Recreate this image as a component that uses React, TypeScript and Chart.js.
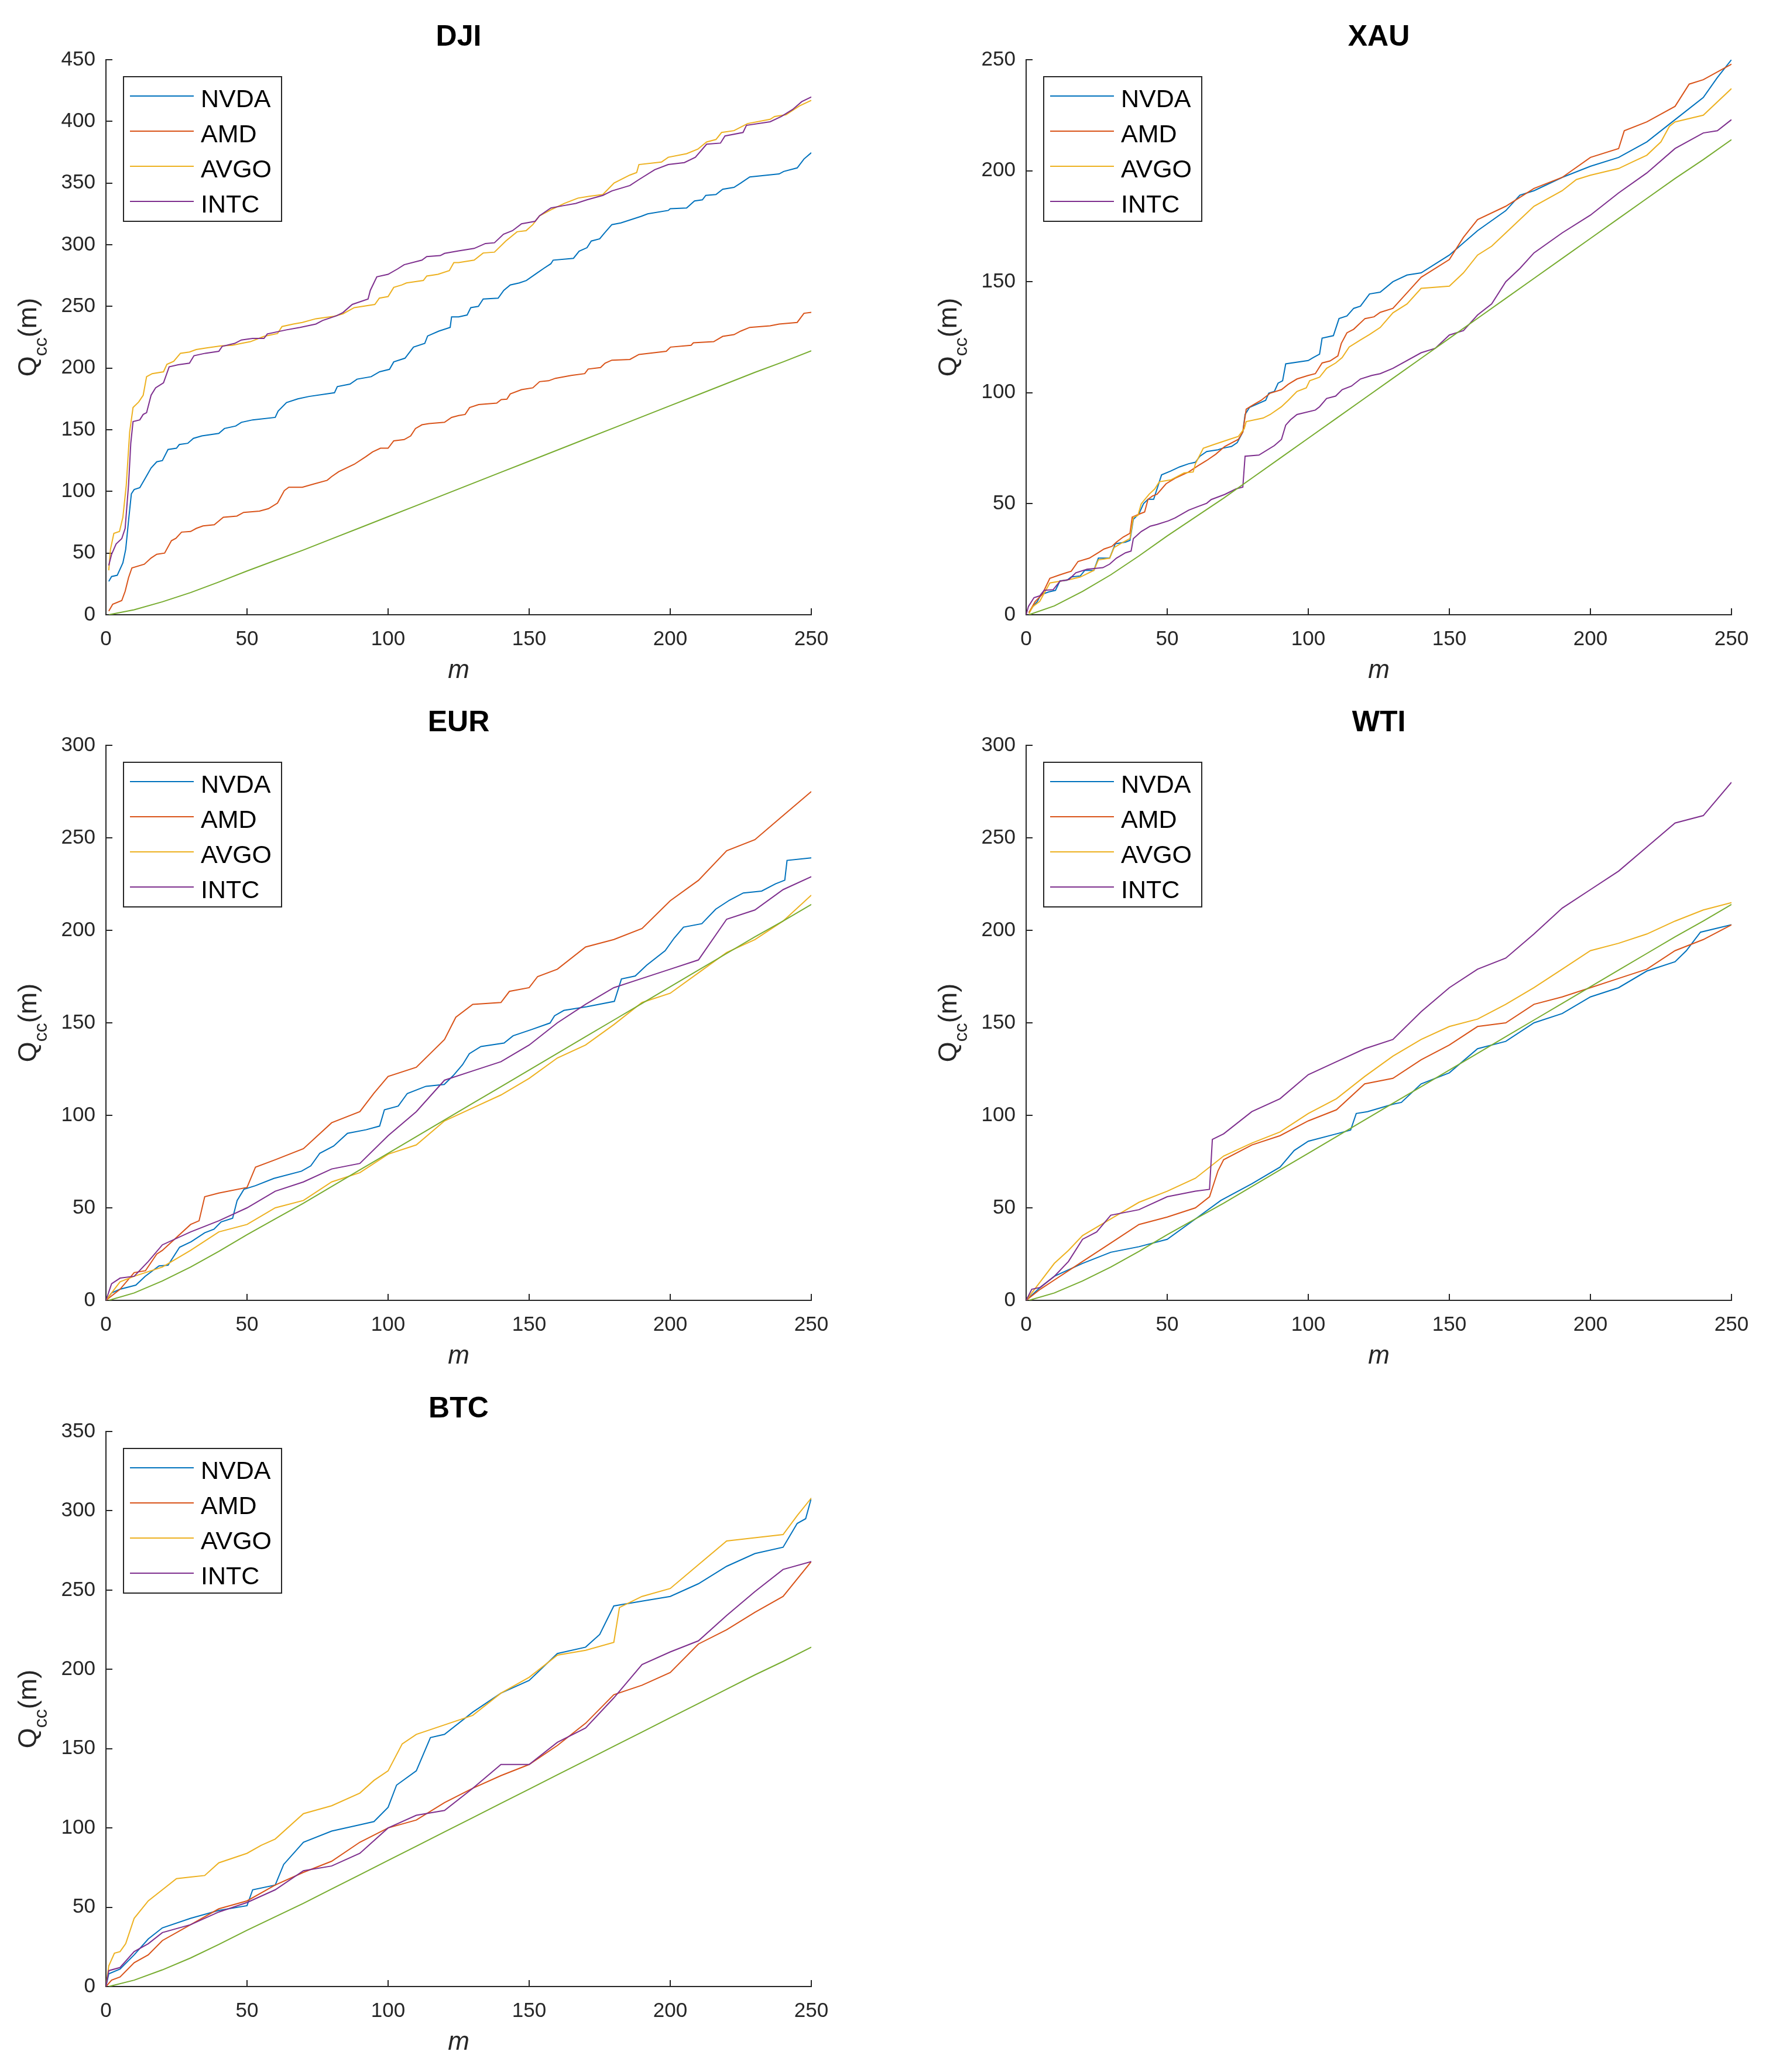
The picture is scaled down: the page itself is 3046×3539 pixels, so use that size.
import React, { useEffect, useRef } from 'react';
import { Chart, registerables } from 'chart.js';

Chart.register(...registerables);

const FONT = '"Liberation Sans", Arial, Helvetica, sans-serif';
Chart.defaults.font.family = FONT;

const SERIES_NAMES = ['NVDA', 'AMD', 'AVGO', 'INTC'];
const SERIES_COLORS = ['#0072BD', '#D95319', '#EDB120', '#7E2F8E'];
const THRESHOLD_COLOR = '#77AC30';
const AXIS_COLOR = '#262626';
const X_MAX = 250;
const X_STEP = 50;
const Y_STEP = 50;

// threshold curve shared by all panels: [m, value]
const THRESHOLD = [[1,0],[10,4],[20,10.5],[30,18],[40,26.5],[50,35.5],[60,44],[70,52.5],[80,61.5],[90,70.5],[100,79.5],[110,88.5],[120,97.5],[130,106.5],[140,115.5],[150,124.5],[160,133.5],[170,142.5],[180,151.5],[190,160.5],[200,169.5],[210,178.5],[220,187.5],[230,196.5],[240,205],[250,214]];

// DJI
const DJI_NVDA = [[1,27],[2,31],[4,32],[6,42],[7,53],[8,76],[9,98],[10,101.5],[12,103],[14,111],[16,119],[18,124],[20,125],[22,134],[25,135],[26,138],[29,139],[31,143],[34,145],[40,147],[42,151],[46,153],[48,156],[52,158],[60,160],[61,165],[64,172],[68,175],[72,177],[81,180],[82,185],[86.5,187],[89,191],[94,193],[97,197],[100.5,199],[102,205],[106,208],[109,217],[113,220],[114,226],[118,230],[122,233],[122.5,241.5],[125,241.5],[128,243],[129.3,249],[132,250],[133.7,256],[139,256.7],[141,263],[143.3,267.4],[146.5,269],[149,271],[153,277.4],[155.3,281],[157.7,284.6],[158.5,287.5],[165.7,289],[167.7,294.7],[170.5,297.6],[172,303],[175,304.8],[176.5,309],[179.3,316.3],[182.5,317.7],[189.7,323],[192,325],[199.3,327.8],[200,329.2],[205.8,329.8],[208.6,335.5],[211.4,336.4],[212.6,340],[216.2,340.7],[218.6,345],[222.6,346.5],[225,350],[228.2,355],[238.6,357.4],[240.2,359.4],[245,362.3],[247.4,369.5],[250,374.6]];
const DJI_AMD = [[1,3],[2.4,8.5],[5.6,11.5],[6.8,19],[8,30],[9.2,38],[13.6,41],[16,46],[18,49],[20.8,50],[23.2,60],[24.8,62],[26.8,67],[30,67.5],[32,70],[34.4,72],[38.4,73],[41.6,79],[46.4,80],[48.8,83],[54.4,84],[57.6,86],[60.8,90.5],[63.2,100.6],[64.8,103.4],[69.6,103.4],[73.6,106],[78.4,109],[80,112],[82.5,116],[88,122],[92,128],[94.5,132],[97.3,135],[100,135],[102,141],[105.7,142],[108,145],[109.7,151],[112,154],[114.5,155],[120,156],[122.5,160],[125,161.5],[127.3,162.4],[128.9,168],[132.1,170.4],[138.5,171.6],[140.1,174.5],[142.1,174.8],[143.3,179],[147.3,182.5],[151.3,184],[153.7,189],[156.9,189.7],[159.3,191.7],[164.9,194],[169.7,195.5],[170.9,199.2],[175.3,200.4],[176.9,204],[179.3,206.4],[185.7,207],[188.9,211],[198.6,213.6],[200.1,217],[207.4,218.5],[208.2,220.5],[215.4,221.4],[218.6,225.7],[222.6,227.1],[225,230],[228.2,233],[235.4,234.3],[238.6,235.7],[245,237],[247.4,244.4],[250,245.2]];
const DJI_AVGO = [[1,36],[1.6,53],[2.8,66],[4.8,67.5],[6,79],[7.2,105],[8.4,148],[9.6,168],[11.6,172.5],[13.2,178],[14.4,193],[16.4,195.5],[20.4,197],[21.6,203],[24,205.5],[26.4,212],[29.6,213],[32,215],[36,216.5],[40.8,218],[44.8,218.5],[48,220],[51.2,221.4],[56,225.7],[60.8,228],[62.4,233.7],[66.4,235.7],[69.6,237],[74.4,240],[80.8,242],[84,244],[88,249],[95.3,251.6],[96.9,256.7],[100,258],[102,265.4],[104.9,267.4],[106.5,269],[112.5,271],[113.7,274.6],[117.7,276],[121.7,279],[123.3,285.5],[125,285.5],[130.5,287.5],[133.7,293.3],[137.7,294],[141.7,303],[145.7,310.5],[148.9,311.4],[151.3,316.3],[153.7,323.5],[158.5,329.2],[162.5,333.5],[167.3,337.8],[171.3,339.3],[176.1,340.7],[180.1,350],[185.7,356.5],[188.1,358.5],[188.9,365],[196.9,367],[199.3,370.9],[205.8,373.8],[209.8,377.5],[212.9,383.3],[216.2,385.3],[218.2,391],[222.6,392.5],[227.4,398.2],[235.4,401.7],[237,404],[241,405.4],[245.8,412.6],[250,417]];
const DJI_INTC = [[1,40],[2,49],[3.6,57.4],[5.6,61.7],[6.8,70],[8,105],[8.8,139],[9.6,156.6],[12,158],[13.2,162.4],[14.4,163.8],[16,178],[17.6,184],[20.4,188],[22.4,201],[25.6,202.7],[29.6,204],[31.2,210],[35.2,212],[40,213.6],[41.2,217.6],[45.6,220],[48,222.8],[52,224],[56,224],[57.2,227.7],[64,231],[68.8,233],[74.4,235.7],[76.8,238.6],[81.7,242.4],[84,245],[87.3,251.6],[92.9,256],[93.7,263],[96,274],[100,276],[103.3,280.3],[105.7,283.8],[112,287.5],[113.7,290.4],[118.5,291.2],[120,293],[125,295],[130.5,297],[134.5,301],[137.7,301.6],[140.9,308.5],[144.1,311.4],[147.3,317],[152.1,319],[153.7,323.5],[157.7,329.8],[161.7,331.5],[166.5,333.5],[170.5,336.4],[176.1,340],[179.3,343.6],[185.7,348],[188.9,352.8],[194.5,360.8],[199.3,365],[205,366.6],[208.9,370.9],[212.9,381.5],[217.8,382.4],[219.4,388.2],[225.8,391],[227,396.8],[235.4,399.7],[239.4,404],[243.4,409.7],[246.6,416],[250,419.8]];

// XAU
const XAU_NVDA = [[1,1],[2.4,3.7],[4,6],[5.2,9],[8,10.3],[10.4,11],[12,15.3],[14.4,15.5],[16,17],[19.2,17.5],[20.8,20],[24,20],[25.6,25.5],[29.6,25.5],[31.6,32],[35.2,32.7],[36.8,33.5],[38,43],[40,45.5],[41.6,50],[43.2,52],[45.2,52],[48,63],[51.2,64.7],[54.4,66.6],[57.6,68],[60,68.7],[61.6,71.4],[64,73.5],[68,74.3],[69.6,75],[72.8,75.8],[74.8,77.5],[76.8,82.3],[77.6,90.2],[79.2,93.4],[84.9,96.6],[86,99.8],[88,100.6],[89.3,104.3],[90.9,105.4],[92,113],[100,114.5],[101.7,115.8],[104,117.4],[104.9,124.6],[108.9,125.7],[110.9,133.4],[113.7,134.6],[116.1,138],[118.5,139],[121.7,144.5],[125.5,145.3],[130,150],[135,153],[140,154],[150,162],[160,173],[170,182],[175,189],[180,191],[190,197],[200,202],[210,206],[220,213],[230,223],[240,233],[245,242],[250,250]];
const XAU_AMD = [[1,1],[3.2,6],[5.6,9],[8.4,16.4],[12,18],[14.4,19],[16,19.6],[18.4,24],[22.4,25.5],[25.6,28],[27.6,29.6],[30.4,30.8],[32,32.7],[34.4,35],[36.8,36.7],[37.6,44],[40.4,45.5],[42,46.3],[43.2,52],[44.8,53.5],[46.4,54.3],[49.6,59],[52.8,61.5],[57.6,64.3],[60.8,67],[64,69.5],[67.2,72.3],[70.4,75.8],[75.2,79],[76.8,82.3],[78,92.6],[80,94.2],[83.3,96.6],[86.5,99.8],[90.5,101.4],[92.9,103.8],[96,106.2],[100,107.8],[102.5,108.6],[103.7,111],[104.9,113.4],[107.7,114.3],[110.5,116.6],[111.7,122.2],[113.7,127],[116.1,128.6],[120.1,133.4],[123.3,134.2],[125.5,136.2],[130,138],[135,145],[140,152],[150,160],[155,170],[160,178],[170,184],[180,192],[190,197],[200,206],[210,210],[212,218],[220,222],[230,229],[235,239],[240,241],[250,248]];
const XAU_AVGO = [[1,0.5],[2.4,3.7],[4.8,6],[8.4,14.3],[12,15.1],[16,16],[19.2,17],[24,20],[25.6,24.7],[29.6,25.5],[31.2,30.3],[34.4,32.7],[36.8,34.3],[38,44],[39.6,44.7],[40.8,50],[43.6,54.3],[45.6,56.7],[47.2,59.9],[51.2,60.7],[56,63.9],[59.2,64.3],[60,68],[62.8,75],[66.4,76.6],[72,79],[75.2,80.3],[77.3,83.8],[78,87],[84,88.6],[86.5,90.2],[90.5,93.7],[92.9,96.6],[96,100.6],[99.3,102.2],[100.5,105.4],[104,107],[106.5,111],[109.7,113.4],[112,115.8],[114.5,120.6],[118.5,123.8],[121.7,126.2],[125.5,129.4],[130,136],[135,140],[140,147],[150,148],[155,154],[160,162],[165,166],[170,172],[175,178],[180,184],[190,191],[195,196],[200,198],[210,201],[215,204],[220,207],[225,213],[228,220],[230,222],[240,225],[250,237]];
const XAU_INTC = [[0,0],[0.8,3.7],[2.8,7.7],[4.8,8.5],[6.4,11],[9.6,11.3],[12,15.1],[15.2,15.9],[17.6,18.9],[21.6,20.5],[27.2,21.2],[29.6,22.8],[32,25.5],[35.2,27.9],[37.2,28.7],[38,34.3],[40.8,37.5],[44,39.9],[46.4,40.7],[50.4,42.3],[52.8,43.6],[57.6,47.1],[60.8,48.7],[64,50.2],[65.6,51.9],[70.4,54.2],[74.4,56.7],[76.8,57.5],[77.6,71.4],[82.5,71.9],[88,76.2],[90.5,79],[92,85.4],[93.7,87.8],[96,90.2],[102.5,92.2],[104,93.7],[106.5,97.4],[109.7,98.5],[112,101.4],[115.3,103],[118.5,106.2],[122.5,107.8],[125.5,108.6],[130,111],[140,118],[145,120],[150,126],[155,128],[160,135],[165,140],[170,150],[175,156],[180,163],[190,172],[200,180],[205,185],[210,190],[220,199],[230,210],[240,217],[245,218],[250,223]];

// EUR
const EUR_NVDA = [[0,0],[2,4],[5,6],[10.6,8.2],[13.9,13],[18.8,18.6],[22,19],[26.1,28.7],[30.2,31.7],[35,36.5],[38.3,38.5],[40.8,42.4],[44.9,44.4],[46.5,54],[48.9,60],[53,62],[59.5,65.9],[69.3,69.8],[72.6,72.7],[75.8,79.5],[80.7,83.4],[85.6,90.3],[92.2,92.2],[97,94.2],[98.7,103],[103.6,105],[106.8,111.8],[113.4,115.7],[119.9,116.7],[123.1,121.5],[126.4,127.4],[128.8,133.3],[132.9,137.2],[141.1,139.1],[144.3,143],[150.9,146.4],[157.4,149.9],[159,153.8],[162.3,156.7],[170.4,158.7],[180.2,161.6],[182.7,173.7],[187.6,175.3],[191.6,181.1],[198.2,189],[201.4,195.8],[204.7,201.7],[211.2,203.6],[216.1,211.4],[221,216.3],[225.9,220.2],[232.4,221.2],[237.3,225.1],[240.6,227.1],[241.4,237.8],[250,239.2]];
const EUR_AMD = [[0,0],[5,6],[10,15],[14,16],[18,25],[20,27],[30,41],[33,43],[35,56],[40,58],[50,61],[53,72],[60,76],[70,82],[80,96],[90,102],[95,112],[100,121],[110,126],[120,141],[124,153],[130,160],[140,161],[143,167],[150,169],[153,175],[160,179],[170,191],[180,195],[190,201],[200,216],[210,227],[220,243],[230,249],[240,262],[250,275]];
const EUR_AVGO = [[0,0],[5,10],[10,13],[20,18],[30,27],[40,37],[50,41],[60,50],[70,54],[80,64],[90,69],[100,79],[110,84],[120,97],[130,104],[140,111],[150,120],[160,131],[170,138],[180,149],[190,161],[200,166],[210,177],[220,188],[230,195],[240,205],[250,219]];
const EUR_INTC = [[0,0],[2,9],[5,12],[10,13],[15,21],[20,30],[30,37],[40,43],[50,50],[60,59],[70,64],[80,71],[90,74],[100,89],[110,102],[120,119],[130,124],[140,129],[150,138],[160,150],[170,160],[180,169],[190,174],[200,179],[210,184],[220,206],[230,211],[240,222],[250,229]];

// WTI
const WTI_NVDA = [[0,0],[5,7],[10,13],[20,20],[30,26],[40,29],[50,33],[60,44],[69,54],[80,63],[90,72],[95,81],[100,86],[110,90],[115,92],[117,101],[121,102],[130,106],[133,107],[140,117],[150,123],[160,136],[170,140],[180,150],[190,155],[200,164],[210,169],[220,178],[230,183],[234,189],[239,199],[250,203]];
const WTI_AMD = [[0,0],[5,6],[10,11],[20,21],[30,31],[40,41],[50,45],[60,50],[65,56],[68,70],[70,76],[80,84],[90,89],[100,97],[110,103],[120,117],[130,120],[140,130],[150,138],[160,148],[170,150],[180,160],[190,164],[200,169],[210,174],[220,179],[230,189],[240,195],[250,203]];
const WTI_AVGO = [[0,0],[5,10],[10,20],[15,27],[20,35],[30,44],[40,53],[50,59],[60,66],[70,78],[80,85],[90,91],[100,101],[110,109],[120,121],[130,132],[140,141],[150,148],[160,152],[170,160],[180,169],[190,179],[200,189],[210,193],[220,198],[230,205],[240,211],[250,215]];
const WTI_INTC = [[0,0],[2,6],[5,7],[10,13],[15,21],[20,33],[25,37],[30,46],[40,49],[50,56],[60,59],[65,60],[66,87],[70,90],[80,102],[90,109],[100,122],[110,129],[120,136],[130,141],[140,156],[150,169],[160,179],[170,185],[180,198],[190,212],[200,222],[210,232],[220,245],[230,258],[240,262],[250,280]];

// BTC
const BTC_NVDA = [[0,0],[1,8],[5,11],[10,20],[15,30],[20,37],[30,43],[40,48],[50,51],[52,61],[60,64],[63,77],[70,91],[80,98],[90,102],[95,104],[100,113],[103,127],[110,136],[115,157],[120,159],[130,173],[140,185],[150,193],[160,210],[170,214],[175,222],[180,240],[190,243],[200,246],[210,254],[220,265],[230,273],[240,277],[245,292],[248,295],[250,308]];
const BTC_AMD = [[0,0],[2,4],[5,6],[10,15],[15,20],[20,29],[30,39],[40,49],[50,54],[60,64],[70,72],[80,79],[90,91],[100,100],[110,105],[120,116],[130,125],[140,133],[150,140],[160,152],[170,166],[180,184],[190,190],[200,198],[210,216],[220,225],[230,236],[240,246],[250,268]];
const BTC_AVGO = [[0,0],[1,13],[3,21],[5,22],[7,27],[10,43],[15,54],[20,61],[25,68],[30,69],[35,70],[40,78],[50,84],[55,89],[60,93],[70,109],[80,114],[90,122],[95,130],[100,136],[105,153],[110,159],[120,165],[130,171],[140,185],[150,195],[160,209],[170,212],[180,217],[182,239],[190,246],[200,251],[210,266],[220,281],[230,283],[240,285],[245,297],[250,308]];
const BTC_INTC = [[0,0],[1,10],[5,12],[10,22],[15,27],[20,34],[30,39],[40,47],[50,53],[60,61],[70,73],[80,76],[90,84],[100,100],[110,108],[120,111],[130,125],[140,140],[150,140],[160,154],[170,163],[180,182],[190,203],[200,211],[210,218],[220,234],[230,249],[240,263],[250,268]];

const PANEL_TITLES = ['DJI', 'XAU', 'EUR', 'WTI', 'BTC'];
const PANEL_YMAX = [450, 250, 300, 300, 350];
const PANEL_SERIES = [
  [DJI_NVDA, DJI_AMD, DJI_AVGO, DJI_INTC],
  [XAU_NVDA, XAU_AMD, XAU_AVGO, XAU_INTC],
  [EUR_NVDA, EUR_AMD, EUR_AVGO, EUR_INTC],
  [WTI_NVDA, WTI_AMD, WTI_AVGO, WTI_INTC],
  [BTC_NVDA, BTC_AMD, BTC_AVGO, BTC_INTC],
];

// layout (page pixels)
const CANVAS_W = 1474;
const CANVAS_H = 1171;
const PANEL_POS = [
  { left: 0, top: 0 },
  { left: 1572, top: 0 },
  { left: 0, top: 1171 },
  { left: 1572, top: 1171 },
  { left: 0, top: 2343 },
];

const legendBoxPlugin = {
  id: 'legendBox',
  afterDraw(chart: any) {
    const { ctx, chartArea } = chart;
    const l = chartArea.left + 30;
    const t = chartArea.top + 29;
    ctx.save();
    ctx.fillStyle = '#ffffff';
    ctx.fillRect(l, t, 270, 247);
    ctx.strokeStyle = AXIS_COLOR;
    ctx.lineWidth = 2;
    ctx.strokeRect(l, t, 270, 247);
    let idx = 0;
    chart.data.datasets.forEach((ds: any) => {
      if (!SERIES_NAMES.includes(ds.label)) return;
      const y = t + 33 + idx * 60;
      ctx.strokeStyle = ds.borderColor;
      ctx.lineWidth = 2;
      ctx.beginPath();
      ctx.moveTo(l + 11, y);
      ctx.lineTo(l + 120, y);
      ctx.stroke();
      ctx.fillStyle = '#000000';
      ctx.font = `43px ${FONT}`;
      ctx.textAlign = 'left';
      ctx.textBaseline = 'alphabetic';
      ctx.fillText(ds.label, l + 132, y + 19);
      idx++;
    });
    ctx.restore();
  },
};

const yLabelPlugin = {
  id: 'yLabel',
  afterDraw(chart: any) {
    const { ctx, chartArea } = chart;
    const main = `45px ${FONT}`;
    const sub = `32px ${FONT}`;
    ctx.save();
    ctx.fillStyle = AXIS_COLOR;
    ctx.textAlign = 'left';
    ctx.textBaseline = 'alphabetic';
    ctx.font = main;
    const wQ = ctx.measureText('Q').width;
    const wM = ctx.measureText('(m)').width;
    ctx.font = sub;
    const wC = ctx.measureText('cc').width;
    const total = wQ + wC + wM;
    ctx.translate(chartArea.left - 119, (chartArea.top + chartArea.bottom) / 2);
    ctx.rotate(-Math.PI / 2);
    let x = -total / 2;
    ctx.font = main;
    ctx.fillText('Q', x, 0);
    x += wQ;
    ctx.font = sub;
    ctx.fillText('cc', x, 18);
    x += wC;
    ctx.font = main;
    ctx.fillText('(m)', x, 0);
    ctx.restore();
  },
};

function Panel({ index }: { index: number }) {
  const ref = useRef<HTMLCanvasElement>(null);
  useEffect(() => {
    if (!ref.current) return;
    const series = PANEL_SERIES[index];
    const datasets: any[] = series.map((s, i) => ({
      label: SERIES_NAMES[i],
      data: s.map(([x, y]) => ({ x, y })),
      borderColor: SERIES_COLORS[i],
      backgroundColor: SERIES_COLORS[i],
      borderWidth: 2,
      pointRadius: 0,
      tension: 0,
      fill: false,
      order: 4 - i,
    }));
    datasets.push({
      label: 'threshold',
      data: THRESHOLD.map(([x, y]) => ({ x, y })),
      borderColor: THRESHOLD_COLOR,
      backgroundColor: THRESHOLD_COLOR,
      borderWidth: 2,
      pointRadius: 0,
      tension: 0,
      fill: false,
      order: 0,
    });
    const tickFont = { family: FONT, size: 35 };
    const chart = new Chart(ref.current, {
      type: 'line',
      data: { datasets },
      options: {
        animation: false,
        responsive: false,
        devicePixelRatio: 1,
        parsing: false as any,
        layout: { padding: { left: 0, right: 88, top: 0, bottom: 0 } },
        plugins: {
          legend: { display: false },
          tooltip: { enabled: false },
          title: {
            display: true,
            text: PANEL_TITLES[index],
            color: '#000000',
            fullSize: false,
            font: { family: FONT, size: 50, weight: 'bold' },
            padding: { top: 34, bottom: 8 },
          },
        },
        scales: {
          x: {
            type: 'linear',
            min: 0,
            max: X_MAX,
            ticks: { stepSize: X_STEP, font: tickFont, color: AXIS_COLOR, padding: 32, maxRotation: 0, autoSkip: false },
            grid: { drawOnChartArea: false, drawTicks: true, tickLength: -11, color: AXIS_COLOR, lineWidth: 2 },
            border: { display: true, color: AXIS_COLOR, width: 2 },
            title: {
              display: true,
              text: 'm',
              color: AXIS_COLOR,
              font: { family: FONT, size: 44, style: 'italic', lineHeight: 1 },
              padding: { top: 0, bottom: 3 },
            },
            afterFit: (s: any) => {
              s.height = CANVAS_H - 1050;
              s.paddingLeft = 0;
              s.paddingRight = 0;
            },
          },
          y: {
            type: 'linear',
            min: 0,
            max: PANEL_YMAX[index],
            ticks: { stepSize: Y_STEP, font: tickFont, color: AXIS_COLOR, padding: 29 },
            grid: { drawOnChartArea: false, drawTicks: true, tickLength: -11, color: AXIS_COLOR, lineWidth: 2 },
            border: { display: true, color: AXIS_COLOR, width: 2 },
            title: { display: false },
            afterFit: (s: any) => {
              s.width = 181;
              s.paddingTop = 0;
              s.paddingBottom = 0;
            },
          },
        },
      } as any,
      plugins: [legendBoxPlugin, yLabelPlugin],
    });
    return () => chart.destroy();
  }, [index]);
  const pos = PANEL_POS[index];
  return (
    <canvas
      ref={ref}
      width={CANVAS_W}
      height={CANVAS_H}
      style={{ position: 'absolute', left: pos.left, top: pos.top, width: CANVAS_W, height: CANVAS_H }}
    />
  );
}

export default function App() {
  return (
    <div style={{ position: 'absolute', left: 0, top: 0, width: 3046, height: 3539, background: '#ffffff', overflow: 'hidden' }}>
      {PANEL_TITLES.map((_, i) => (
        <Panel key={i} index={i} />
      ))}
    </div>
  );
}
